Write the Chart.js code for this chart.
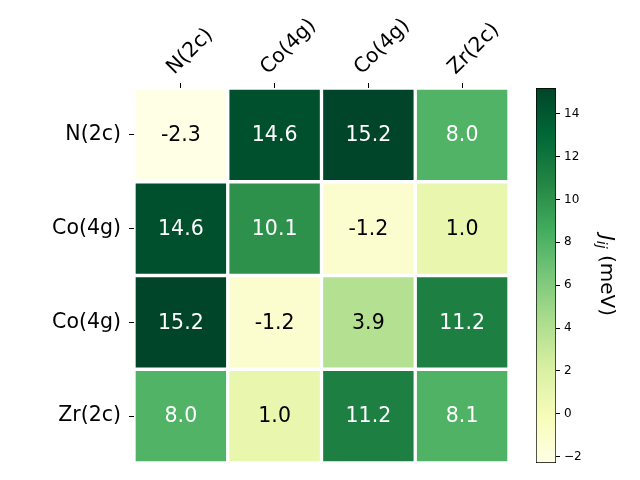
<!DOCTYPE html>
<html>
<head>
<meta charset="utf-8">
<script src="https://cdn.jsdelivr.net/npm/chart.js@4"></script>
<style>
  html, body { margin: 0; padding: 0; background: #fff; }
  #wrap { position: relative; width: 640px; height: 480px; }
  #wrap canvas { position: absolute; top: 0; }
</style>
</head>
<body>
<div id="wrap">
  <canvas id="heat" width="640" height="480" style="left:0"></canvas>
  <canvas id="cbar" width="140" height="480" style="left:500px"></canvas>
</div>
<script>
// heatmap labels (columns on top, rows on the left)
const siteLabels = ['N(2c)', 'Co(4g)', 'Co(4g)', 'Zr(2c)'];

// J_ij values, one array per row
const rowN = [-2.3, 14.6, 15.2, 8.0];
const rowCo1 = [14.6, 10.1, -1.2, 1.0];
const rowCo2 = [15.2, -1.2, 3.9, 11.2];
const rowZr = [8.0, 1.0, 11.2, 8.1];
const rows = [rowN, rowCo1, rowCo2, rowZr];

// colour scale
const vmin = -2.3;
const vmax = 15.2;
const colorbarTicks = [-2, 0, 2, 4, 6, 8, 10, 12, 14];

// matplotlib YlGn
const ylgn = ['#ffffe5', '#f7fcb9', '#d9f0a3', '#addd8e', '#78c679', '#41ab5d', '#238443', '#006837', '#004529'];

function hexToRgb(h) {
  return [parseInt(h.slice(1, 3), 16), parseInt(h.slice(3, 5), 16), parseInt(h.slice(5, 7), 16)];
}

function colorFor(v) {
  let t = (v - vmin) / (vmax - vmin);
  t = Math.max(0, Math.min(1, t));
  const pos = t * (ylgn.length - 1);
  const i = Math.min(Math.floor(pos), ylgn.length - 2);
  const f = pos - i;
  const a = hexToRgb(ylgn[i]), b = hexToRgb(ylgn[i + 1]);
  const c = a.map((x, k) => Math.round(x + (b[k] - x) * f));
  return `rgb(${c[0]},${c[1]},${c[2]})`;
}

Chart.defaults.font.family = "'DejaVu Sans', sans-serif";
Chart.defaults.color = '#000';

const cellText = {
  id: 'cellText',
  afterDatasetsDraw(chart) {
    const ctx = chart.ctx;
    ctx.save();
    ctx.font = "20.5px 'DejaVu Sans'";
    ctx.textAlign = 'center';
    ctx.textBaseline = 'middle';
    chart.data.datasets.forEach((ds, r) => {
      const meta = chart.getDatasetMeta(r);
      meta.data.forEach((el, c) => {
        const v = rows[r][c];
        const p = el.getCenterPoint();
        ctx.fillStyle = v > (vmin + vmax) / 2 ? '#fff' : '#000';
        ctx.fillText(v.toFixed(1), p.x, p.y + 1);
      });
    });
    ctx.restore();
  }
};

new Chart(document.getElementById('heat'), {
  type: 'bar',
  data: {
    labels: siteLabels,
    datasets: rows.map((vals, r) => ({
      data: vals.map(() => [r, r + 1]),
      backgroundColor: vals.map(colorFor),
      borderColor: '#fff',
      borderWidth: 2,
      borderSkipped: false,
      grouped: false,
      barPercentage: 1,
      categoryPercentage: 1
    }))
  },
  options: {
    responsive: false,
    animation: false,
    layout: { padding: { left: 0, top: 0, right: 131, bottom: 17 } },
    plugins: { legend: { display: false }, tooltip: { enabled: false } },
    scales: {
      x: {
        type: 'category',
        position: 'top',
        offset: true,
        grid: { offset: false, drawOnChartArea: false, tickLength: 5, tickColor: '#000' },
        border: { display: false },
        ticks: { minRotation: 45, maxRotation: 45, font: { size: 20.5 }, padding: 3, labelOffset: 7 },
        afterFit: s => { s.height = 88; s.paddingLeft = 0; s.paddingRight = 0; }
      },
      y: {
        type: 'linear',
        min: 0,
        max: 4,
        reverse: true,
        afterBuildTicks: s => { s.ticks = siteLabels.map((_, i) => ({ value: i + 0.5 })); },
        grid: { drawOnChartArea: false, tickLength: 5, tickColor: '#000' },
        border: { display: false },
        ticks: {
          font: { size: 20.5 },
          padding: 8,
          callback: v => siteLabels[Math.floor(v)]
        },
        afterFit: s => { s.width = 134; s.paddingTop = 0; s.paddingBottom = 0; }
      }
    }
  },
  plugins: [cellText]
});

const cbarLabel = {
  id: 'cbarLabel',
  afterDraw(chart) {
    const ctx = chart.ctx;
    const a = chart.chartArea;
    const cy = (a.top + a.bottom) / 2;
    ctx.save();
    ctx.translate(106, cy);
    ctx.rotate(Math.PI / 2);
    ctx.textBaseline = 'middle';
    ctx.textAlign = 'left';
    const fBig = "italic 20px 'DejaVu Sans'";
    const fSub = "italic 14px 'DejaVu Sans'";
    const fRest = "20px 'DejaVu Sans'";
    ctx.font = fBig; const wJ = ctx.measureText('J').width;
    ctx.font = fSub; const wS = ctx.measureText('ij').width;
    ctx.font = fRest; const wR = ctx.measureText(' (meV)').width;
    let x = -(wJ + wS + wR) / 2;
    ctx.fillStyle = '#000';
    ctx.font = fBig; ctx.fillText('J', x, 0); x += wJ;
    ctx.font = fSub; ctx.fillText('ij', x, 5); x += wS;
    ctx.font = fRest; ctx.fillText(' (meV)', x, 0);
    ctx.restore();
  }
};

new Chart(document.getElementById('cbar'), {
  type: 'bar',
  data: {
    labels: [''],
    datasets: [{
      data: [[vmin, vmax]],
      backgroundColor: c => {
        const chart = c.chart;
        if (!chart.chartArea) return ylgn[4];
        const y = chart.scales.y;
        const g = chart.ctx.createLinearGradient(0, y.getPixelForValue(vmin), 0, y.getPixelForValue(vmax));
        ylgn.forEach((col, i) => g.addColorStop(i / (ylgn.length - 1), col));
        return g;
      },
      borderColor: '#000',
      borderWidth: 1,
      borderSkipped: false,
      barPercentage: 1,
      categoryPercentage: 1
    }]
  },
  options: {
    responsive: false,
    animation: false,
    layout: { padding: { left: 36, top: 88, right: 0, bottom: 17 } },
    plugins: { legend: { display: false }, tooltip: { enabled: false } },
    scales: {
      x: { display: false },
      y: {
        position: 'right',
        min: vmin,
        max: vmax,
        afterBuildTicks: s => { s.ticks = colorbarTicks.map(v => ({ value: v })); },
        grid: { drawOnChartArea: false, tickLength: 4, tickColor: '#000' },
        border: { display: false },
        ticks: { font: { size: 12 }, padding: 4, callback: v => (v < 0 ? '\u2212' + Math.abs(v) : String(v)) },
        afterFit: s => { s.width = 84; s.paddingTop = 0; s.paddingBottom = 0; }
      }
    }
  },
  plugins: [cbarLabel]
});
</script>
</body>
</html>
